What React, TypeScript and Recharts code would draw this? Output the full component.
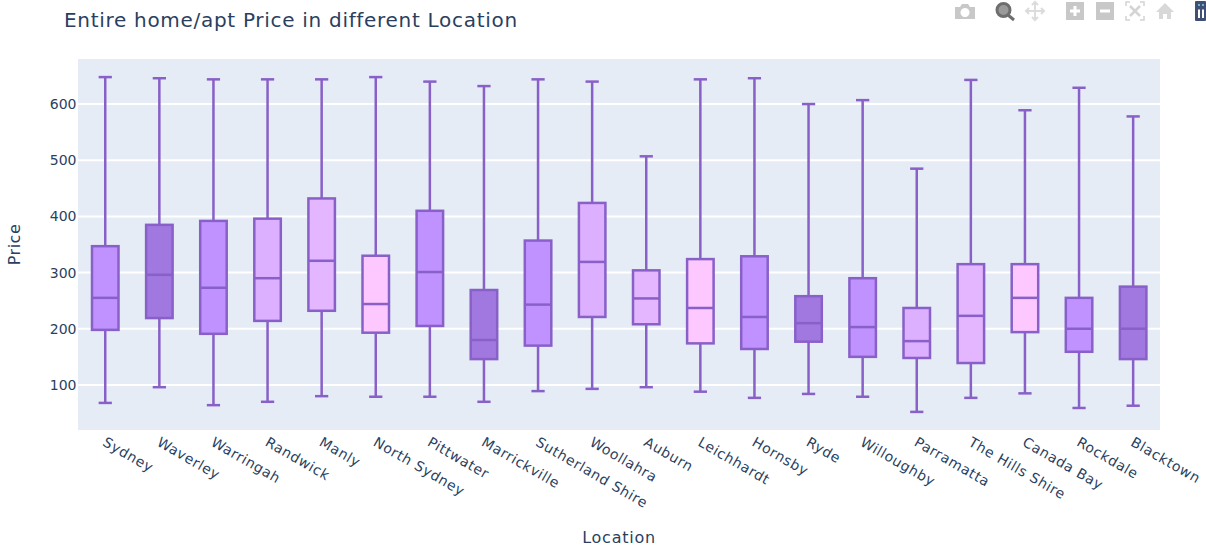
import React from "react";
import { ComposedChart, Bar, XAxis, YAxis, CartesianGrid, Cell, Label } from "recharts";

const locations = ["Sydney","Waverley","Warringah","Randwick","Manly","North Sydney","Pittwater","Marrickville","Sutherland Shire","Woollahra","Auburn","Leichhardt","Hornsby","Ryde","Willoughby","Parramatta","The Hills Shire","Canada Bay","Rockdale","Blacktown"];
const whiskerLow = [68,96,64,70,80,79,79,70,89,93,96,88,77,84,79,52,77,85,59,63];
const quartile1 = [198,219,191,214,232,193,205,146,170,221,208,174,164,177,150,148,139,194,159,146];
const medians = [255,296,273,290,321,244,301,180,243,319,254,237,221,210,203,178,223,255,200,200];
const quartile3 = [347,385,392,396,432,330,410,269,357,424,304,324,329,258,290,237,315,315,255,275];
const whiskerHigh = [648,646,644,644,644,648,640,632,644,640,507,644,646,600,607,485,643,589,629,578];
const yTicks = [100,200,300,400,500,600];

const FILLS = ["#BF92FF","#A078E0","#BF92FF","#DDAFFF","#E3B6FF","#FCC8FF"];
const fillOrder = [0,1,2,3,4,5,2,1,2,3,4,5,2,1,2,3,4,5,2,1];
const LINE = "#8860C8";
const INK = "#2A3F5F";
const FONT = "'DejaVu Sans', Verdana, sans-serif";

const table = locations.map((name, i) => ({
  name,
  range: [whiskerLow[i], whiskerHigh[i]],
  low: whiskerLow[i], q1: quartile1[i], median: medians[i], q3: quartile3[i], high: whiskerHigh[i],
}));

function BoxShape(props: any) {
  const { x, y, width, height, payload, fill } = props;
  const top = Math.min(y, y + height);
  const h = Math.abs(height);
  const py = (v: number) => top + ((payload.high - v) / (payload.high - payload.low)) * h;
  const cx = x + width / 2;
  const cap = width * 0.5;
  return (
    <g stroke={LINE} strokeWidth={2.5} fill="none">
      <line x1={cx} x2={cx} y1={py(payload.high)} y2={py(payload.q3)} />
      <line x1={cx} x2={cx} y1={py(payload.q1)} y2={py(payload.low)} />
      <line x1={cx - cap / 2} x2={cx + cap / 2} y1={py(payload.high)} y2={py(payload.high)} />
      <line x1={cx - cap / 2} x2={cx + cap / 2} y1={py(payload.low)} y2={py(payload.low)} />
      <rect x={x} y={py(payload.q3)} width={width} height={py(payload.q1) - py(payload.q3)} fill={fill} />
      <line x1={x} x2={x + width} y1={py(payload.median)} y2={py(payload.median)} />
    </g>
  );
}

function SlantTick(props: any) {
  const { x, y, payload } = props;
  const ax = x + 2;
  const ay = y - 5;
  return (
    <text x={ax} y={ay} transform={`rotate(30 ${ax} ${ay})`} textAnchor="start" dominantBaseline="hanging"
      fontFamily={FONT} fontSize={14} letterSpacing={0.6} fill={INK}>
      {payload.value}
    </text>
  );
}

function YTick(props: any) {
  const { y, payload } = props;
  return (
    <text x={76.5} y={y} textAnchor="end" dominantBaseline="central" fontFamily={FONT} fontSize={14} fill={INK}>
      {payload.value}
    </text>
  );
}

function ModeBar() {
  const g = "#C8C8C8";
  return (
    <svg width={1206} height={30} style={{ position: "absolute", left: 0, top: 0 }}>
      <g fill={g}>
        <path d="M955 7h5l2-3h6l2 3h5v12h-20z M965 8a4.5 4.5 0 1 0 .01 0z" fillRule="evenodd" />
      </g>
      <g fill="none" stroke="#6E6E6E">
        <circle cx={1003.5} cy={10} r={6.5} strokeWidth={3} fill="#9A9A9A" />
        <line x1={1008} y1={15} x2={1014} y2={20} strokeWidth={3} />
      </g>
      <g fill="none" stroke="#DCDCDC" strokeWidth={2}>
        <path d="M1035 2v18M1026 11h18M1032 5l3-3 3 3M1032 17l3 3 3-3M1029 8l-3 3 3 3M1041 8l3 3-3 3" />
      </g>
      <rect x={1066} y={2} width={18} height={18} fill={g} />
      <path d="M1075 6v10M1070 11h10" stroke="#fff" strokeWidth={3} />
      <rect x={1096} y={2} width={18} height={18} fill={g} />
      <path d="M1100 11h10" stroke="#fff" strokeWidth={3} />
      <g fill="none" stroke="#D4D4D4" strokeWidth={1.5}>
        <path d="M1126 6V2h4M1140 2h4v4M1144 16v4h-4M1130 20h-4v-4" />
        <path d="M1130 6l10 10M1140 6l-10 10" strokeWidth={2.5} />
      </g>
      <path d="M1165 3l9 9h-3v7h-4v-5h-4v5h-4v-7h-3z" fill="#D8D8D8" />
      <rect x={1195} y={1} width={11} height={20} rx={1} fill="#3F4F75" />
      <path d="M1198 9.5h2v8.5h-2zM1202 9.5h2v8.5h-2z" fill="#fff" />
      <g fill="#7FD8D8">
        <circle cx={1199} cy={5} r={1} />
        <circle cx={1203} cy={5} r={1} />
      </g>
    </svg>
  );
}

export default function App() {
  return (
    <div style={{ position: "absolute", left: 0, top: 0, width: 1206, height: 554, background: "#fff" }}>
      <ComposedChart width={1206} height={554} data={table} margin={{ top: 58, right: 46, bottom: 0, left: 0 }}>
        <CartesianGrid vertical={false} stroke="#FFFFFF" strokeWidth={2} fill="#E5ECF6" />
        <XAxis dataKey="name" interval={0} height={123} axisLine={false} tickLine={false} tick={<SlantTick />} tickMargin={4}>
          <Label value="Location" position="insideBottom" offset={11} fontFamily={FONT} fontSize={16} letterSpacing={0.75} fill={INK} />
        </XAxis>
        <YAxis width={78} domain={[18, 682]} ticks={yTicks} axisLine={false} tickLine={false} tick={<YTick />}>
          <Label value="Price" angle={-90} position="center" dx={-25} fontFamily={FONT} fontSize={16} letterSpacing={0.5} fill={INK} />
        </YAxis>
        <Bar dataKey="range" barSize={26.5} isAnimationActive={false} shape={<BoxShape />}>
          {table.map((d, i) => <Cell key={d.name} fill={FILLS[fillOrder[i]]} />)}
        </Bar>
        <text x={64} y={26.5} fontFamily={FONT} fontSize={20} letterSpacing={0.7} fill={INK}>Entire home/apt Price in different Location</text>
      </ComposedChart>
      <ModeBar />
    </div>
  );
}
